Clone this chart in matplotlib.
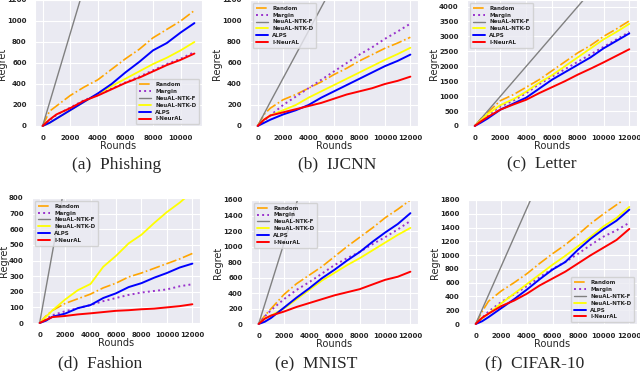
import matplotlib
matplotlib.use("Agg")
import matplotlib.pyplot as plt
import seaborn as sns

sns.set_style("darkgrid")
plt.rcParams['font.family'] = ['DejaVu Sans']

# ----------------------------------------------------------------------------
# Regret vs rounds on six datasets
# ----------------------------------------------------------------------------
methods = ['Random', 'Margin', 'NeuAL-NTK-F', 'NeuAL-NTK-D', 'ALPS', 'I-NeurAL']
colors = ['orange', 'darkorchid', 'grey', 'yellow', 'blue', 'red']
styles = ['-.', ':', '-', '-', '-', '-']
widths = [1.2, 1.4, 1.0, 1.3, 1.4, 1.4]

rounds_11k = [0, 500, 1000, 2000, 3000, 4000, 5000, 6000, 7000, 8000, 9000, 10000, 11000]
rounds_12k = [0, 500, 1000, 2000, 3000, 4000, 5000, 6000, 7000, 8000, 9000, 10000, 11000, 12000]

# (a) Phishing
phishing = {
    'Random':      [0, 140, 190, 290, 370, 440, 540, 640, 730, 840, 920, 1000, 1100],
    'Margin':      [0, 55, 105, 175, 245, 295, 355, 415, 470, 530, 590, 640, 705],
    'NeuAL-NTK-F': [0, 220, 440, 880, 1320, 1760, 2200, 2640, 3080, 3520, 3960, 4400, 4840],
    'NeuAL-NTK-D': [0, 30, 70, 150, 230, 305, 380, 450, 520, 590, 650, 720, 800],
    'ALPS':        [0, 30, 70, 150, 230, 310, 400, 510, 610, 720, 790, 890, 980],
    'I-NeurAL':    [0, 60, 110, 170, 240, 290, 350, 410, 460, 520, 580, 630, 690],
}
# (b) IJCNN
ijcnn = {
    'Random':      [0, 110, 170, 250, 300, 360, 420, 490, 550, 620, 680, 740, 790, 845],
    'Margin':      [0, 50, 100, 200, 280, 360, 440, 520, 600, 680, 750, 830, 900, 975],
    'NeuAL-NTK-F': [0, 115, 230, 455, 680, 905, 1130, 1355, 1580, 1800, 2030, 2250, 2480, 2700],
    'NeuAL-NTK-D': [0, 60, 100, 150, 200, 270, 330, 390, 450, 510, 570, 630, 685, 745],
    'ALPS':        [0, 30, 60, 110, 150, 200, 270, 330, 390, 450, 510, 570, 620, 680],
    'I-NeurAL':    [0, 60, 100, 130, 160, 190, 220, 260, 300, 330, 360, 400, 430, 470],
}
# (c) Letter
letter = {
    'Random':      [0, 250, 450, 850, 1050, 1300, 1550, 1850, 2150, 2450, 2700, 3000, 3250, 3520],
    'Margin':      [0, 180, 350, 650, 850, 1100, 1400, 1650, 1900, 2150, 2400, 2650, 2900, 3150],
    'NeuAL-NTK-F': [0, 250, 500, 1000, 1500, 2000, 2500, 3000, 3500, 4000, 4500, 5000, 5500, 6000],
    'NeuAL-NTK-D': [0, 200, 400, 700, 900, 1150, 1450, 1700, 2000, 2300, 2600, 2900, 3150, 3420],
    'ALPS':        [0, 120, 250, 550, 750, 950, 1250, 1550, 1800, 2050, 2300, 2600, 2850, 3100],
    'I-NeurAL':    [0, 160, 300, 550, 720, 880, 1100, 1300, 1500, 1720, 1920, 2130, 2350, 2570],
}
# (d) Fashion
fashion = {
    'Random':      [0, 45, 80, 125, 155, 185, 225, 255, 295, 320, 350, 380, 410, 445],
    'Margin':      [0, 25, 50, 75, 95, 115, 140, 160, 180, 195, 205, 215, 235, 248],
    'NeuAL-NTK-F': [0, 225, 450, 900, 1350, 1800, 2250, 2700, 3150, 3600, 4050, 4500, 4950, 5400],
    'NeuAL-NTK-D': [0, 40, 80, 150, 210, 250, 360, 430, 510, 565, 640, 710, 770, 840],
    'ALPS':        [0, 15, 40, 60, 95, 115, 160, 190, 230, 255, 290, 320, 355, 380],
    'I-NeurAL':    [0, 20, 38, 45, 55, 62, 70, 78, 82, 88, 92, 100, 108, 120],
}
# (e) MNIST
mnist = {
    'Random':      [0, 110, 200, 380, 520, 630, 740, 870, 1000, 1120, 1240, 1370, 1480, 1600],
    'Margin':      [0, 100, 180, 320, 440, 540, 650, 760, 850, 930, 1030, 1120, 1220, 1330],
    'NeuAL-NTK-F': [0, 260, 520, 1040, 1560, 2080, 2600, 3120, 3640, 4160, 4680, 5200, 5720, 6240],
    'NeuAL-NTK-D': [0, 70, 110, 200, 320, 440, 560, 660, 760, 850, 950, 1050, 1150, 1240],
    'ALPS':        [0, 30, 80, 210, 340, 460, 590, 700, 820, 930, 1060, 1180, 1290, 1430],
    'I-NeurAL':    [0, 70, 110, 160, 220, 270, 320, 370, 410, 450, 510, 570, 610, 675],
}
# (f) CIFAR-10
cifar10 = {
    'Random':      [0, 180, 330, 480, 600, 730, 880, 1020, 1150, 1300, 1460, 1600, 1730, 1860],
    'Margin':      [0, 90, 180, 320, 430, 550, 680, 800, 900, 1020, 1150, 1270, 1360, 1470],
    'NeuAL-NTK-F': [0, 210, 420, 840, 1260, 1680, 2100, 2520, 2940, 3360, 3780, 4200, 4620, 5040],
    'NeuAL-NTK-D': [0, 80, 150, 300, 440, 580, 720, 860, 990, 1130, 1270, 1420, 1540, 1700],
    'ALPS':        [0, 40, 100, 230, 360, 500, 650, 790, 900, 1080, 1240, 1380, 1500, 1660],
    'I-NeurAL':    [0, 90, 150, 260, 340, 440, 560, 660, 760, 880, 1000, 1110, 1220, 1380],
}

panels = [
    # data, rounds, ylim top, ytick step, legend loc, caption
    (phishing, rounds_11k, 1200, 200, 'lower right', '(a)  Phishing'),
    (ijcnn, rounds_12k, 1200, 200, 'upper left', '(b)  IJCNN'),
    (letter, rounds_12k, 4220, 500, 'upper left', '(c)  Letter'),
    (fashion, rounds_12k, 800, 100, 'upper left', '(d)  Fashion'),
    (mnist, rounds_12k, 1600, 200, 'upper left', '(e)  MNIST'),
    (cifar10, rounds_12k, 1800, 200, 'lower right', '(f)  CIFAR-10'),
]

# axes boxes in pixels: left, top, right, bottom ; caption centre x, y
W, H = 640, 371
boxes = [(35, 0, 202, 127), (250, 0, 418, 127), (467, 0, 637, 127),
         (32, 198, 200, 324), (251, 200, 418, 325), (468, 200, 637, 325)]
captions_xy = [(117, 165), (337, 164), (542, 164), (100, 363), (316, 364), (535, 364)]

fig = plt.figure(figsize=(W / 100, H / 100), dpi=100)

for (data, rounds, ytop, ystep, loc, cap), (l, t, r, b), (cx, cy) in zip(panels, boxes, captions_xy):
    ax = fig.add_axes([l / W, 1 - b / H, (r - l) / W, (b - t) / H])
    for m, c, ls, lw in zip(methods, colors, styles, widths):
        ax.plot(rounds, data[m], color=c, linestyle=ls, linewidth=lw, label=m)
    ax.set_ylim(-ytop * 0.008, ytop)
    ax.set_xticks(range(0, rounds[-1] + 1, 2000))
    ax.set_yticks(range(0, int(ytop) + 1, ystep))
    ax.tick_params(axis='x', labelsize=5, pad=2, colors='#262626')
    ax.tick_params(axis='y', labelsize=5, pad=2.5, colors='#262626')
    for lab in ax.get_xticklabels() + ax.get_yticklabels():
        lab.set_fontweight('bold')
    ax.set_xlabel('Rounds', fontsize=7, labelpad=0.5, color='#262626')
    ax.set_ylabel('Regret', fontsize=7, labelpad=0.3, color='#262626')
    ax.legend(loc=loc, prop={'size': 4, 'weight': 'bold'}, labelspacing=0.35,
              handlelength=2.2, borderpad=0.5, handletextpad=0.8)
    fig.text(cx / W, 1 - cy / H, cap, ha='center', va='center',
             fontsize=12.5, family='Liberation Serif')

fig.savefig('out.png', dpi=100)
